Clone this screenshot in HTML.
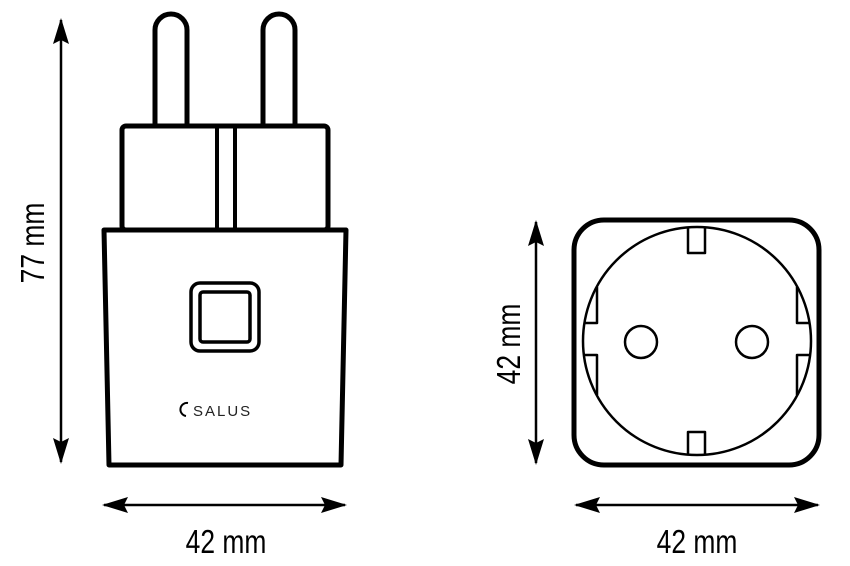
<!DOCTYPE html>
<html><head><style>html,body{margin:0;padding:0;background:#fff;}svg{display:block}</style></head>
<body>
<svg width="850" height="566" viewBox="0 0 850 566" xmlns="http://www.w3.org/2000/svg">
<defs>
<marker id="a" markerWidth="26" markerHeight="16" refX="24" refY="8" orient="auto-start-reverse" markerUnits="userSpaceOnUse">
<path d="M0,0 L26,8 L0,16 L4,8 Z" fill="#000"/>
</marker>
</defs>
<g fill="none" stroke="#000" stroke-linejoin="round">
<path d="M155,125 V30 A16,16 0 0 1 187,30 V125" stroke-width="5"/>
<path d="M263,125 V30 A16,16 0 0 1 295,30 V125" stroke-width="5"/>
<rect x="122" y="126" width="206" height="104" rx="4" stroke-width="5" fill="#fff"/>
<line x1="217" y1="128" x2="217" y2="228" stroke-width="4"/>
<line x1="235" y1="128" x2="235" y2="228" stroke-width="4"/>
<path d="M104,230 L346,230 L341,465 L109,465 Z" stroke-width="5" fill="#fff"/>
<rect x="191" y="283" width="68" height="68" rx="9" stroke-width="3.5"/>
<rect x="200" y="292" width="50" height="50" rx="3" stroke-width="3.5"/>
<rect x="574" y="220" width="245" height="245" rx="30" stroke-width="5"/>
<circle cx="697" cy="341" r="114" stroke-width="2.5"/>
<circle cx="641" cy="342" r="16" stroke-width="2.5"/>
<circle cx="752" cy="342" r="16" stroke-width="2.5"/>
<path d="M688,228 V253 H705 V228" stroke-width="2.5"/>
<path d="M688,455 V432 H705 V455" stroke-width="2.5"/>
<path d="M597,287 V323 H584 M584,355 H597 V395" stroke-width="2.5"/>
<path d="M797,287 V323 H810 M810,355 H797 V395" stroke-width="2.5"/>
<line x1="61" y1="20" x2="61" y2="462" stroke-width="2.5" marker-start="url(#a)" marker-end="url(#a)"/>
<line x1="104" y1="505" x2="345" y2="505" stroke-width="2.5" marker-start="url(#a)" marker-end="url(#a)"/>
<line x1="536" y1="222" x2="536" y2="463" stroke-width="2.5" marker-start="url(#a)" marker-end="url(#a)"/>
<line x1="576" y1="505" x2="818" y2="505" stroke-width="2.5" marker-start="url(#a)" marker-end="url(#a)"/>
</g>
<g font-family="Liberation Sans, sans-serif" font-size="33" fill="#000" text-anchor="middle">
<text transform="translate(226,553) scale(0.8,1)">42 mm</text>
<text transform="translate(697,553) scale(0.8,1)">42 mm</text>
<text transform="translate(44,243) rotate(-90) scale(0.8,1)">77 mm</text>
<text transform="translate(520,344) rotate(-90) scale(0.8,1)">42 mm</text>
</g>
<path d="M188,403 A6,6 0 1 0 186,416" fill="none" stroke="#000" stroke-width="2"/>
<text x="193" y="416" font-family="Liberation Sans, sans-serif" font-size="15" letter-spacing="2" fill="#222">SALUS</text>
</svg>
</body></html>
